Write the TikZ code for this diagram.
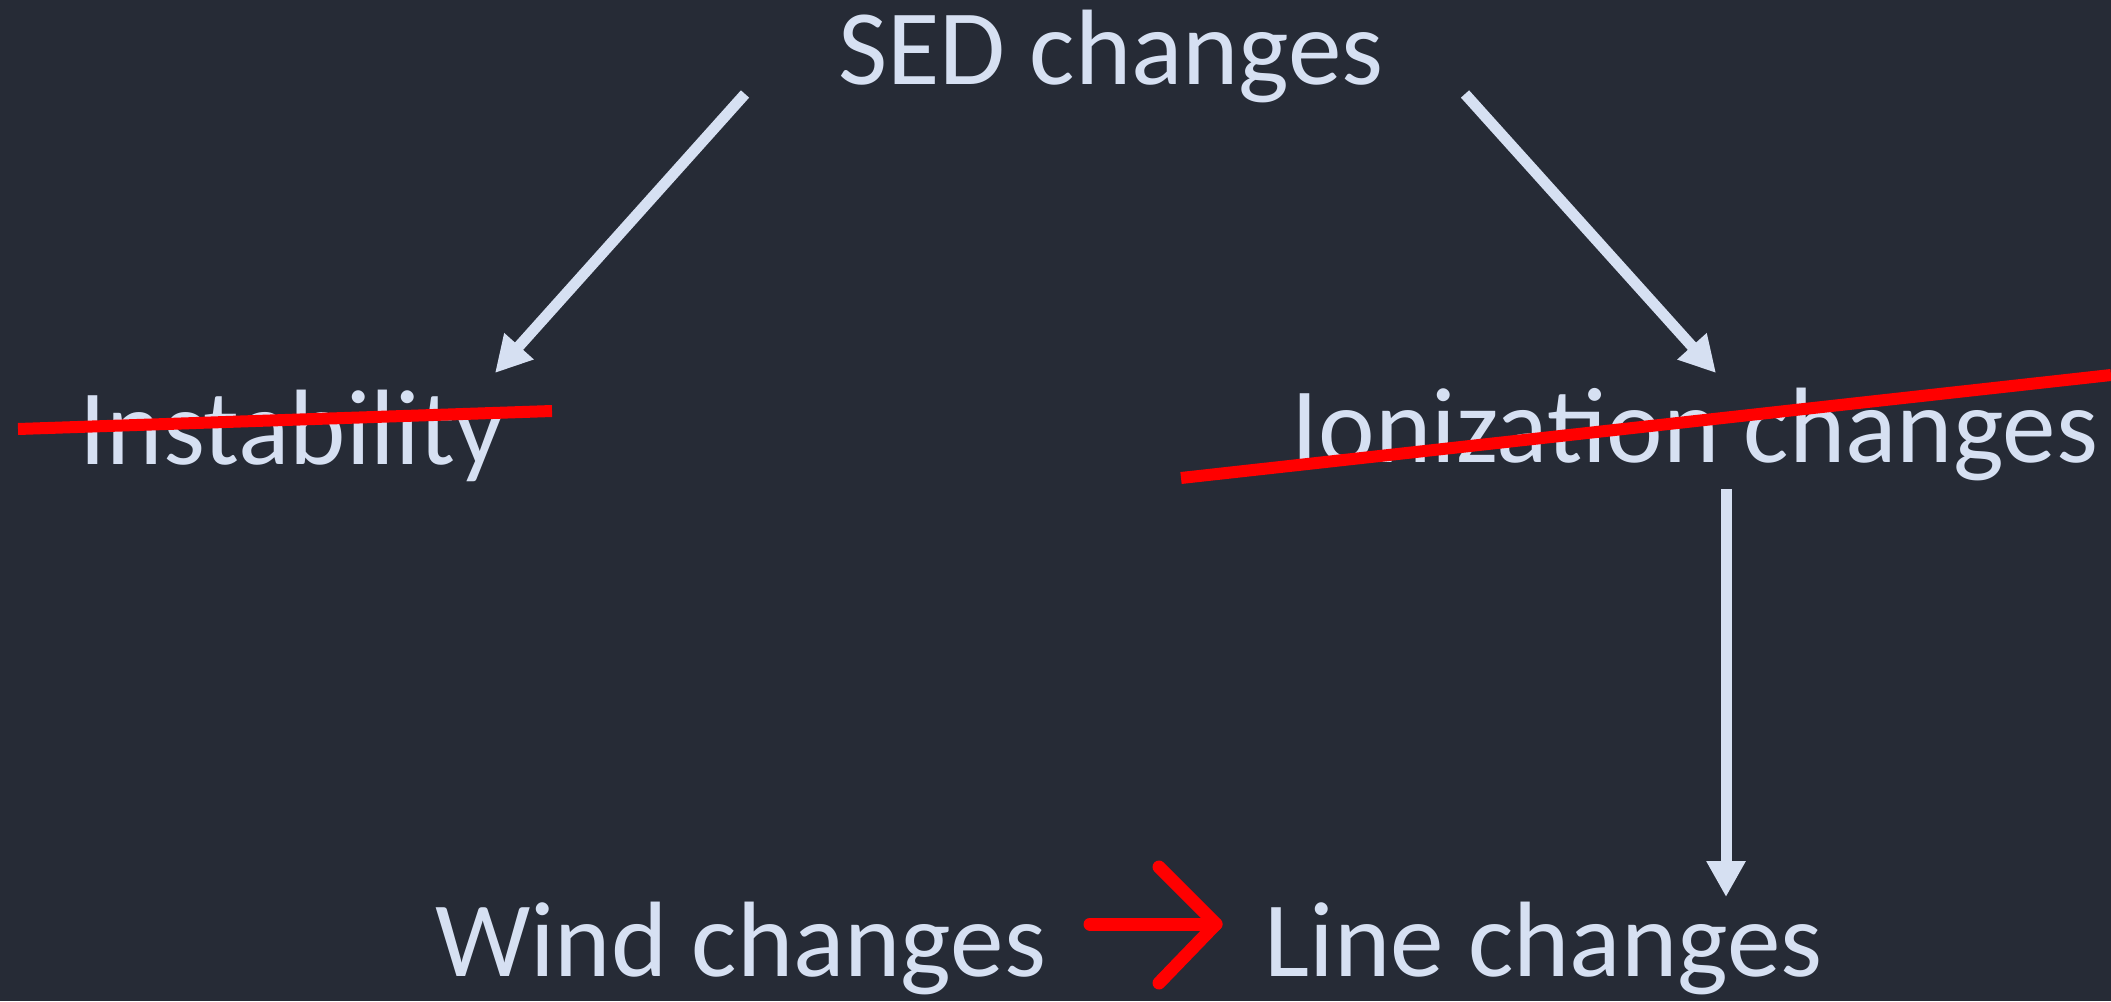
\documentclass[tikz,border=0pt]{standalone}
\usepackage{fontspec}
\setmainfont{Carlito}
\usepackage{xcolor}
\usepackage{tikz}
\usetikzlibrary{positioning,arrows.meta,calc}

\definecolor{board}{HTML}{262B36}
\definecolor{chalk}{HTML}{D6E0F2}
\definecolor{cross}{HTML}{FF0000}

\begin{document}
\begin{tikzpicture}[
    label/.style={text=chalk, inner sep=0pt, anchor=base, font=\fontsize{30.5}{36}\selectfont},
    flow/.style={draw=chalk, line width=0.11cm, -{Triangle[length=0.36cm, width=0.37cm]}},
    strike/.style={draw=cross, line width=0.12cm},
    redarr/.style={draw=cross, line width=0.13cm, line cap=round, line join=round}
  ]
    \fill[board] (0,0) rectangle (21.11,10.01);
    \useasboundingbox (0,0) rectangle (21.11,10.01);

    % statements
    \node[label] (sed) at (11.11,9.16) {SED changes};
    \node[label] (inst) at (2.92,5.37) {Instability};
    \node[label] (ion) at (16.95,5.39) {Ionization changes};
    \node[label] (wind) at (7.405,0.25) {Wind changes};
    \node[label] (line) at (15.435,0.25) {Line changes};

    % causal arrows
    \draw[flow] ([xshift=-3.66cm,yshift=-0.09cm]sed.base) -- ([xshift=2.03cm,yshift=0.91cm]inst.base);
    \draw[flow] ([xshift=3.54cm,yshift=-0.09cm]sed.base) -- ([xshift=0.21cm,yshift=0.89cm]ion.base);
    \draw[flow] ([xshift=0.31cm,yshift=-0.27cm]ion.base) -- ([xshift=1.825cm,yshift=0.79cm]line.base);

    % crossed out
    \draw[strike] ([xshift=-2.74cm,yshift=0.35cm]inst.base) -- ([xshift=2.60cm,yshift=0.53cm]inst.base);
    \draw[strike] ([xshift=-5.14cm,yshift=-0.16cm]ion.base) -- ([xshift=4.16cm,yshift=0.87cm]ion.base);

    % red arrow
    \draw[redarr] ([xshift=3.495cm,yshift=0.52cm]wind.base) -- ([xshift=-3.275cm,yshift=0.52cm]line.base) coordinate (rt);
    \draw[redarr] ([shift={(-0.57,0.57)}]rt) -- (rt) -- ([shift={(-0.57,-0.59)}]rt);
\end{tikzpicture}
\end{document}
